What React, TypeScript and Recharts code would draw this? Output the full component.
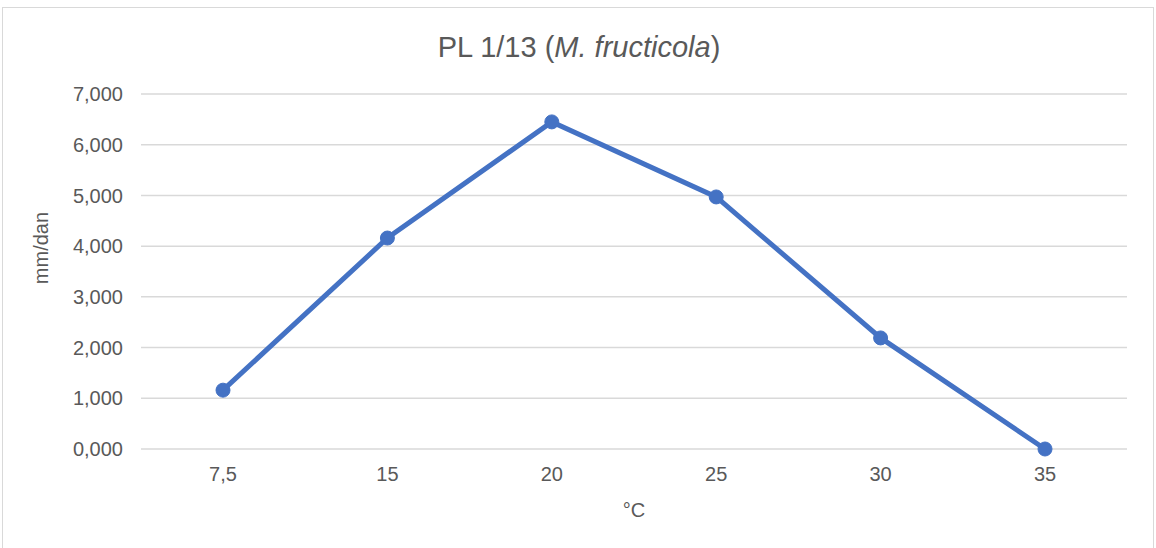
import React from 'react';
import { CartesianGrid, Line, LineChart, XAxis, YAxis } from 'recharts';

const temperatures = ['7,5', '15', '20', '25', '30', '35'];
const growth = [1.16, 4.16, 6.45, 4.97, 2.19, 0];
const yTicks = [0, 1, 2, 3, 4, 5, 6, 7];

const chartData = temperatures.map((t, i) => ({ t, value: growth[i] }));

const textColor = '#595959';
const font = '"Liberation Sans", Arial, sans-serif';

const formatTick = (v: number) => v.toFixed(3).replace('.', ',');

const App: React.FC = () => {
  return (
    <div style={{ position: 'fixed', left: 0, top: 0, width: 1156, height: 548, overflow: 'hidden', background: '#fff', fontFamily: font }}>
      <div
        style={{
          position: 'absolute',
          left: 2,
          top: 7,
          width: 1150,
          height: 600,
          border: '1px solid #d9d9d9',
        }}
      />
      <div
        style={{
          position: 'absolute',
          left: 0,
          width: 1158,
          top: 31,
          textAlign: 'center',
          fontSize: 29,
          color: textColor,
        }}
      >
        PL 1/13 (<i>M. fructicola</i>)
      </div>
      <div style={{ position: 'absolute', left: 0, top: 0 }}>
        <LineChart width={1156} height={548} data={chartData} margin={{ top: 94, right: 29, bottom: 69, left: 81 }}>
          <CartesianGrid vertical={false} stroke="#d9d9d9" strokeWidth={1.5} />
          <XAxis
            dataKey="t"
            height={30}
            padding={{ left: 82, right: 82 }}
            axisLine={false}
            tickLine={false}
            tick={{ fill: textColor, fontSize: 20, fontFamily: font }}
            tickMargin={12}
            label={{
              content: () => (
                <text x={634} y={517} textAnchor="middle" fill={textColor} fontSize={20} fontFamily={font}>
                  °C
                </text>
              ),
            }}
          />
          <YAxis
            width={60}
            domain={[0, 7]}
            ticks={yTicks}
            tickFormatter={formatTick}
            axisLine={false}
            tickLine={false}
            tick={{ fill: textColor, fontSize: 20, fontFamily: font }}
            tickMargin={12}
            label={{
              content: () => (
                <text
                  x={48}
                  y={248}
                  transform="rotate(-90, 48, 248)"
                  textAnchor="middle"
                  fill={textColor}
                  fontSize={20}
                  fontFamily={font}
                >
                  mm/dan
                </text>
              ),
            }}
          />
          <Line
            type="linear"
            dataKey="value"
            stroke="#4472C4"
            strokeWidth={5}
            dot={{ fill: '#4472C4', stroke: '#4472C4', strokeWidth: 1, r: 7 }}
            activeDot={false}
            isAnimationActive={false}
          />
        </LineChart>
      </div>
    </div>
  );
};

export default App;
